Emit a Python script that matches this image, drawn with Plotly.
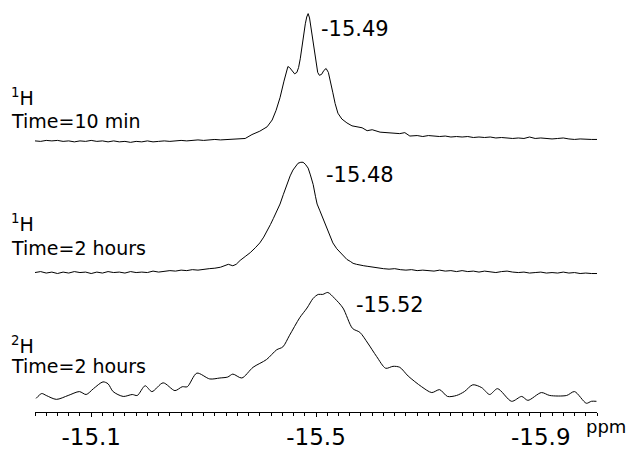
import plotly.graph_objects as go

# ---------------- data ----------------
# chemical shift axis (ppm) and intensity (arbitrary units) for each spectrum
ppm_1 = [-15.00, -15.01, -15.02, -15.03, -15.04, -15.05, -15.06, -15.07, -15.08, -15.09,
         -15.10, -15.11, -15.12, -15.13, -15.14, -15.15, -15.16, -15.17, -15.18, -15.19,
         -15.20, -15.21, -15.22, -15.23, -15.24, -15.25, -15.26, -15.27, -15.28, -15.29,
         -15.30, -15.31, -15.32, -15.33, -15.34, -15.35, -15.36, -15.374, -15.386, -15.400,
         -15.413, -15.422, -15.429, -15.436, -15.443, -15.450, -15.453, -15.457, -15.462, -15.466,
         -15.469, -15.472, -15.475, -15.478, -15.481, -15.4835, -15.486, -15.4885, -15.491, -15.494,
         -15.497, -15.500, -15.503, -15.506, -15.510, -15.514, -15.518, -15.522, -15.526, -15.530,
         -15.534, -15.539, -15.546, -15.555, -15.564, -15.573, -15.582, -15.591, -15.600, -15.614,
         -15.632, -15.649, -15.658, -15.667, -15.68, -15.69, -15.70, -15.71, -15.72, -15.73,
         -15.74, -15.75, -15.76, -15.77, -15.78, -15.79, -15.80, -15.81, -15.82, -15.83,
         -15.84, -15.85, -15.86, -15.87, -15.88, -15.89, -15.90, -15.91, -15.92, -15.93,
         -15.94, -15.95, -15.96, -15.97, -15.98, -15.99, -16.00]
int_1 = [0.5, 0.0, 1.0, 0.5, 1.0, 0.0, 0.5, -0.5, 0.5, 0.0,
         1.0, 0.0, 0.5, -0.5, 0.5, -0.5, 0.0, -1.0, 0.0, -0.5,
         0.5, -0.5, 0.0, 0.5, 0.0, 0.5, 1.0, 0.5, 1.0, 1.5,
         1.0, 1.5, 2.0, 1.5, 2.0, 2.5, 2.5, 3.0, 7.0, 10.5,
         15.0, 22.0, 32.0, 45.0, 62.0, 77.0, 76.0, 73.0, 69.5, 71.0,
         76.0, 85.0, 98.0, 110.0, 121.0, 128.0, 131.5, 127.0, 117.0, 105.0,
         93.0, 80.0, 71.0, 68.0, 69.0, 73.0, 75.0, 71.0, 62.0, 50.0,
         39.0, 29.0, 23.0, 19.0, 16.0, 15.0, 14.0, 11.0, 12.0, 9.5,
         9.0, 8.0, 9.0, 5.5, 6.0, 5.0, 6.0, 5.5, 5.0, 5.5,
         4.5, 5.0, 4.5, 5.0, 4.0, 4.5, 4.0, 4.5, 3.5, 4.0,
         3.5, 3.0, 3.5, 3.0, 4.5, 3.0, 3.5, 3.0, 2.5, 3.0,
         3.5, 2.5, 2.0, 2.5, 2.0, 2.0, 2.0]

ppm_2 = [-15.00, -15.01, -15.02, -15.03, -15.04, -15.05, -15.06, -15.07, -15.08, -15.09,
         -15.10, -15.11, -15.12, -15.13, -15.14, -15.15, -15.16, -15.17, -15.18, -15.19,
         -15.20, -15.21, -15.22, -15.23, -15.24, -15.25, -15.26, -15.27, -15.28, -15.29,
         -15.30, -15.31, -15.32, -15.33, -15.344, -15.352, -15.358, -15.365, -15.374, -15.383,
         -15.392, -15.400, -15.407, -15.413, -15.419, -15.424, -15.430, -15.436, -15.442, -15.448,
         -15.454, -15.459, -15.464, -15.468, -15.473, -15.477, -15.481, -15.486, -15.490, -15.495,
         -15.499, -15.502, -15.507, -15.511, -15.516, -15.520, -15.525, -15.530, -15.537, -15.543,
         -15.549, -15.555, -15.561, -15.566, -15.572, -15.578, -15.585, -15.591, -15.60, -15.61,
         -15.62, -15.63, -15.64, -15.65, -15.66, -15.67, -15.68, -15.69, -15.70, -15.71,
         -15.72, -15.73, -15.74, -15.75, -15.76, -15.77, -15.78, -15.79, -15.80, -15.81,
         -15.82, -15.83, -15.84, -15.85, -15.86, -15.87, -15.88, -15.89, -15.90, -15.91,
         -15.92, -15.93, -15.94, -15.95, -15.96, -15.97, -15.98, -15.99, -16.00]
int_2 = [0.5, 1.5, 0.0, 1.0, -0.5, 1.0, 0.0, 1.5, 0.5, 1.0,
         -0.5, 1.0, 0.0, 1.5, 0.5, 1.0, 0.0, 1.5, 0.5, 1.0,
         0.5, 2.0, 1.0, 1.5, 2.5, 2.0, 3.0, 2.5, 3.5, 3.0,
         4.0, 4.5, 5.0, 6.0, 9.0, 7.5, 9.0, 13.0, 17.0, 21.0,
         26.0, 31.0, 37.0, 43.0, 50.0, 56.0, 63.0, 71.0, 81.0, 91.0,
         100.0, 106.0, 110.0, 113.0, 114.0, 114.0, 112.0, 108.0, 101.0, 91.0,
         79.0, 71.0, 64.0, 58.0, 51.0, 44.0, 37.0, 31.0, 25.0, 21.0,
         17.0, 14.0, 12.0, 10.0, 9.0, 8.0, 7.5, 7.0, 6.0, 5.0,
         4.5, 4.0, 4.5, 3.5, 3.0, 3.5, 2.5, 3.0, 2.5, 2.0,
         3.0, 2.0, 2.5, 1.5, 2.5, 1.5, 2.0, 1.0, 2.0, 1.0,
         0.5, 1.5, 2.0, 1.0, 0.5, 1.0, 0.0, 0.5, 1.0, 0.0,
         0.5, 0.0, 1.0, 0.0, 0.5, -0.5, 0.0, -0.5, -0.5]

ppm_3 = [-15.002, -15.012, -15.020, -15.038, -15.059, -15.079, -15.091, -15.104, -15.121, -15.130,
         -15.139, -15.157, -15.173, -15.182, -15.196, -15.208, -15.228, -15.249, -15.262, -15.271,
         -15.288, -15.311, -15.329, -15.343, -15.352, -15.368, -15.388, -15.412, -15.430, -15.441,
         -15.453, -15.471, -15.484, -15.495, -15.504, -15.512, -15.521, -15.533, -15.548, -15.565,
         -15.578, -15.592, -15.608, -15.624, -15.637, -15.649, -15.664, -15.688, -15.706, -15.720,
         -15.734, -15.750, -15.764, -15.779, -15.795, -15.809, -15.823, -15.848, -15.866, -15.877,
         -15.901, -15.916, -15.946, -15.960, -15.981, -15.990, -15.999]
int_3 = [5, 10, 8, 4, 8, 12, 9, 15, 22, 20,
         12, 7, 9, 8, 18, 12, 21, 13, 17, 17,
         31, 25, 26, 27, 30, 26, 37, 45, 55, 58,
         70, 88, 98, 108, 112, 112, 114, 108, 98, 77,
         73, 62, 48, 36, 38, 37, 28, 17, 11, 14,
         7, 8, 12, 19, 16, 9, 15, 2, 7, 3,
         11, 8, 8, 12, 0, 2, 2]

peak_labels = ["-15.49", "-15.48", "-15.52"]
nucleus_labels = ["<sup>1</sup>H", "<sup>1</sup>H", "<sup>2</sup>H"]
time_labels = ["Time=10 min", "Time=2 hours", "Time=2 hours"]
tick_values = [-15.1, -15.5, -15.9]
tick_labels = ["-15.1", "-15.5", "-15.9"]

# vertical stacking offsets of the spectra (plot units)
offsets = [278.5, 143.0, 9.0]

FONT = "DejaVu Sans"

fig = go.Figure()
series = [(ppm_1, int_1, "linear"), (ppm_2, int_2, "linear"), (ppm_3, int_3, "spline")]
for (xs, ys, shape), off in zip(series, offsets):
    fig.add_trace(go.Scatter(
        x=xs, y=[v + off for v in ys], mode="lines",
        line=dict(color="black", width=1, shape=shape, smoothing=0.8),
        showlegend=False, hoverinfo="skip"))

W, H = 627, 450
ML, MR, MT, MB = 35, 30, 0, 26
PW, PH = W - ML - MR, H - MT - MB


def px(xp):
    return (xp - ML) / PW


def py(yp):
    return (H - MB - yp) / PH


annots = []
nuc_y = [100, 230, 355]
time_y = [125, 255, 377]
peak_pos = [(319, 30), (324, 180), (354, 314)]
for i in range(3):
    annots.append(dict(x=px(9), y=py(nuc_y[i]), text=nucleus_labels[i],
                       xanchor="left", yanchor="middle", font=dict(size=19)))
    annots.append(dict(x=px(9), y=py(time_y[i]), text=time_labels[i],
                       xanchor="left", yanchor="middle", font=dict(size=19)))
    annots.append(dict(x=px(peak_pos[i][0]), y=py(peak_pos[i][1]), text=peak_labels[i],
                       xanchor="left", yanchor="middle", font=dict(size=21)))
annots.append(dict(x=px(584), y=py(439), text="ppm", xanchor="left", yanchor="middle",
                   font=dict(size=18)))
for a in annots:
    a.update(xref="paper", yref="paper", showarrow=False)
    a["font"].update(family=FONT, color="black")

fig.update_layout(
    width=W, height=H,
    margin=dict(l=ML, r=MR, t=MT, b=MB, pad=0),
    paper_bgcolor="white", plot_bgcolor="white",
    font=dict(family=FONT, color="black"),
    annotations=annots,
    xaxis=dict(range=[-15.0, -16.0], showgrid=False, zeroline=False,
               showline=True, linecolor="black", linewidth=1,
               tickmode="array", tickvals=tick_values, ticktext=tick_labels,
               ticks="outside", ticklen=4, tickwidth=1, tickcolor="black",
               ticklabelstandoff=0,
               tickfont=dict(family=FONT, size=23, color="black"),
               minor=dict(tickmode="linear", tick0=-15.0, dtick=0.02, ticks="outside",
                          ticklen=3, tickwidth=1, tickcolor="black", showgrid=False)),
    yaxis=dict(range=[0, PH], visible=False, showgrid=False, zeroline=False),
)

fig.write_html("out.html")
